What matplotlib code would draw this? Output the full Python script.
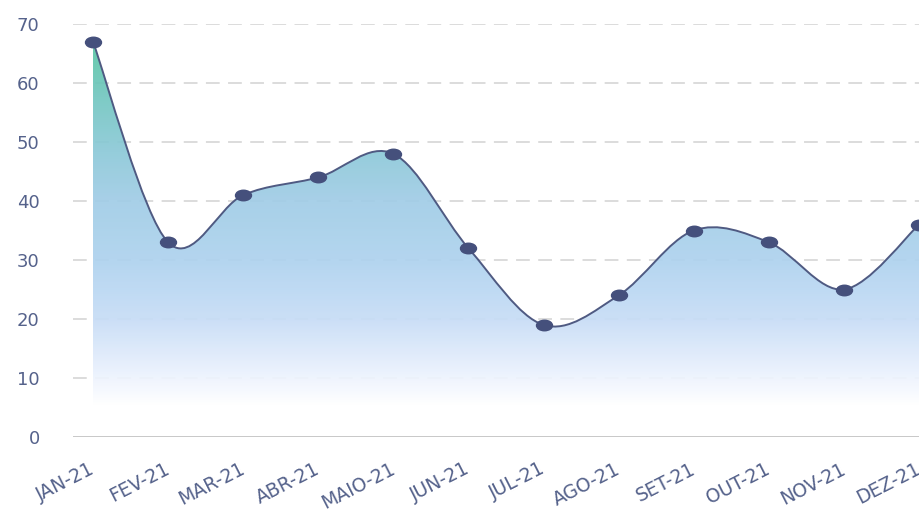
import numpy as np
import matplotlib
matplotlib.use("Agg")
import matplotlib.pyplot as plt
from matplotlib.colors import LinearSegmentedColormap
from matplotlib.path import Path
from matplotlib.patches import PathPatch
import matplotlib.transforms as mtransforms

months = ["JAN-21", "FEV-21", "MAR-21", "ABR-21", "MAIO-21", "JUN-21",
          "JUL-21", "AGO-21", "SET-21", "OUT-21", "NOV-21", "DEZ-21"]
values = [67, 33, 41, 44, 48, 32, 19, 24, 35, 33, 25, 36]
yticks = [0, 10, 20, 30, 40, 50, 60, 70]

W, H = 919, 516
fig = plt.figure(figsize=(W / 100, H / 100), dpi=100)
ax_left, ax_right = 73, 919
y0_px, y70_px = 437, 24
ax = fig.add_axes([ax_left / W, (H - y0_px) / H, (ax_right - ax_left) / W, (y0_px - y70_px) / H])

x = np.arange(len(values), dtype=float)
y = np.array(values, dtype=float)

# Catmull-Rom smooth curve through the points (rendering only)
px = np.concatenate([[x[0]], x, [x[-1]]])
py = np.concatenate([[y[0]], y, [y[-1]]])
verts = [(x[0], y[0])]
codes = [Path.MOVETO]
for i in range(1, len(px) - 2):
    p0 = np.array([px[i - 1], py[i - 1]])
    p1 = np.array([px[i], py[i]])
    p2 = np.array([px[i + 1], py[i + 1]])
    p3 = np.array([px[i + 2], py[i + 2]])
    c1 = p1 + (p2 - p0) / 6.0
    c2 = p2 - (p3 - p1) / 6.0
    verts += [tuple(c1), tuple(c2), tuple(p2)]
    codes += [Path.CURVE4] * 3
curve = Path(verts, codes)

# fill polygon
fverts = verts + [(x[-1], 0), (x[0], 0), (x[0], y[0])]
fcodes = codes + [Path.LINETO, Path.LINETO, Path.CLOSEPOLY]
fill_path = Path(fverts, fcodes)

xmin, xmax = -20 / 75.2, 11.0

# gridlines
for t in yticks[1:]:
    ax.axhline(t, color="#d2d2d2", lw=1.1, dashes=(9, 5.5), zorder=1)
ax.axhline(0, color="#c4c4c4", lw=1.3, zorder=3)

# gradient fill
cmap = LinearSegmentedColormap.from_list("g", [
    (0.0, "#ffffff"),
    (0.08, "#ffffff"),
    (0.17, "#e8f0fd"),
    (0.30, "#c6dcf6"),
    (0.45, "#add2ee"),
    (0.60, "#a0cce6"),
    (0.72, "#8cc9d8"),
    (0.86, "#72c7c0"),
    (1.0, "#58c6a2"),
])
grad = np.linspace(0, 1, 256).reshape(-1, 1)
im = ax.imshow(grad, cmap=cmap, origin="lower", aspect="auto",
               extent=[x[0], x[-1], 0, 67], zorder=2, alpha=0.92)
patch = PathPatch(fill_path, facecolor="none", edgecolor="none", transform=ax.transData)
ax.add_patch(patch)
im.set_clip_path(patch)
ax.set_xlim(xmin, xmax)
ax.set_ylim(0, 70)

# line
line = PathPatch(curve, facecolor="none", edgecolor="#4f5a82", lw=1.4, zorder=4)
ax.add_patch(line)

# elliptical markers
ell = Path.unit_circle()
ell = Path(ell.vertices * np.array([1.0, 0.66]), ell.codes)
ax.plot(x, y, linestyle="none", marker=ell, markersize=11.5,
        color="#45507c", zorder=5, clip_on=False)

for s in ax.spines.values():
    s.set_visible(False)

label_color = "#55628b"
ax.set_yticks(yticks)
ax.set_yticklabels([str(t) for t in yticks], fontsize=13, color=label_color)
ax.tick_params(axis="y", length=0, pad=24)

ax.set_xticks(x)
ax.set_xticklabels(months, fontsize=13.5, color=label_color, rotation=27,
                   ha="right", va="top", rotation_mode="anchor")
ax.tick_params(axis="x", length=0, pad=16)
offset = mtransforms.ScaledTranslation(-4 / 100, 0, fig.dpi_scale_trans)
for lab in ax.get_xticklabels():
    lab.set_transform(lab.get_transform() + offset)

fig.savefig("out.png", dpi=100)
